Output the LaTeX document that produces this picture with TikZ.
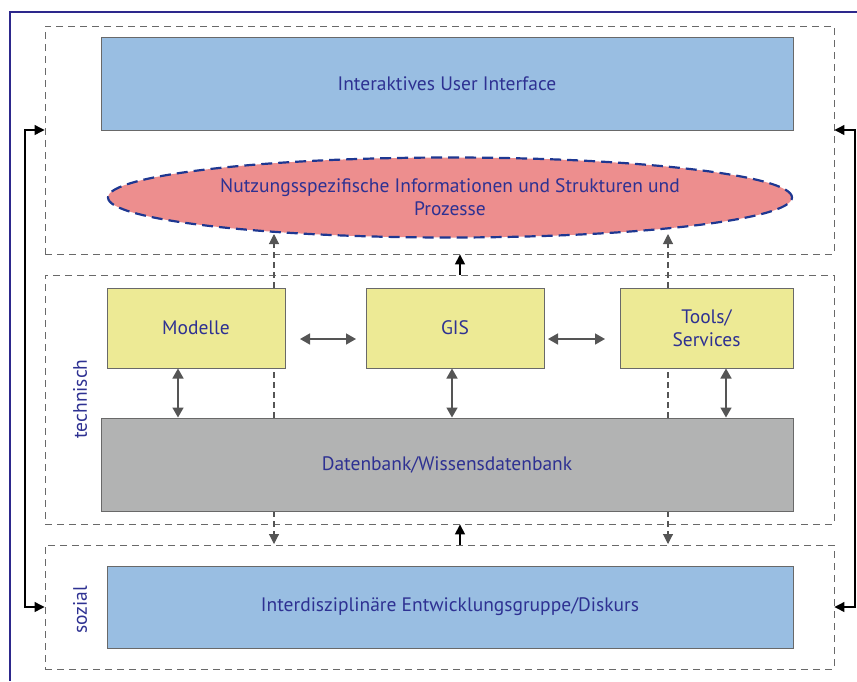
\documentclass[tikz,border=0pt]{standalone}
\usepackage{fontspec}
\setmainfont{PT Sans}
\usetikzlibrary{arrows.meta,shapes.geometric}
\definecolor{txtblue}{RGB}{46,49,146}
\definecolor{frameblue}{RGB}{45,40,140}
\definecolor{uiblue}{RGB}{153,190,226}
\definecolor{ellred}{RGB}{237,142,142}
\definecolor{ellline}{RGB}{30,55,145}
\definecolor{yel}{RGB}{237,234,149}
\definecolor{dbgray}{RGB}{178,179,179}
\definecolor{bordgray}{RGB}{105,105,105}
\definecolor{arrgray}{RGB}{85,85,85}
\tikzset{
  x=1pt, y=-1pt,
  every node/.style={font=\fontsize{19.5}{23}\selectfont, text=txtblue},
  boxnode/.style={draw=bordgray, line width=1pt, rectangle, inner sep=0pt, align=center},
  zone/.style={draw=bordgray, line width=0.9pt, dash pattern=on 7pt off 5pt, rectangle, inner sep=0pt},
  dblarrow/.style={draw=arrgray, line width=1.6pt, {Triangle[width=11pt,length=10pt]}-{Triangle[width=11pt,length=10pt]}},
  dasharrow/.style={draw=arrgray, line width=1.1pt, dash pattern=on 6pt off 4pt, -{Triangle[width=10pt,length=10pt]}},
  blackarrow/.style={draw=black, line width=1.6pt, -{Triangle[width=10pt,length=10pt]}},
  loopline/.style={draw=black, line width=1.2pt, {Triangle[width=10pt,length=10pt]}-{Triangle[width=10pt,length=10pt]}},
}
\begin{document}
\begin{tikzpicture}
\useasboundingbox (0,0) rectangle (857,681);
% outer frame
\draw[frameblue, line width=2.2pt] (10,681) -- (10,12) -- (857,12);
% zones
\node[zone, minimum width=789pt, minimum height=228pt] (ztop) at (439.5,140) {};
\node[zone, minimum width=789pt, minimum height=249pt] (zmid) at (439.5,399.5) {};
\node[zone, minimum width=789pt, minimum height=124pt] (zbot) at (439.5,607) {};
% dashed connectors behind boxes
\coordinate (e1) at (274,234);
\coordinate (e2) at (668,234);
\coordinate (b1) at (274,544);
\coordinate (b2) at (668,544);
\coordinate (d1) at (274,418);
\coordinate (d2) at (668,418);
\coordinate (d3) at (274,511);
\coordinate (d4) at (668,511);
\draw[dasharrow] (d1) -- (e1);
\draw[dasharrow] (d2) -- (e2);
\draw[dasharrow] (d3) -- (b1);
\draw[dasharrow] (d4) -- (b2);
% boxes
\node[boxnode, fill=uiblue, minimum width=692pt, minimum height=93pt] (ui) at (447,83.5) {Interaktives User Interface};
\node[ellipse, draw=ellline, fill=ellred, line width=2.2pt, dash pattern=on 11pt off 6pt, minimum width=684pt, minimum height=80pt, inner sep=0pt, align=center] (ell) at (450,197.5) {Nutzungsspezifische Informationen und Strukturen und\\Prozesse};
\node[boxnode, fill=yel, minimum width=178pt, minimum height=80pt] (mod) at (196,328) {Modelle};
\node[boxnode, fill=yel, minimum width=178pt, minimum height=80pt] (gis) at (455,328) {GIS};
\node[boxnode, fill=yel, minimum width=173pt, minimum height=80pt] (tools) at (706.5,328) {Tools/\\Services};
\node[boxnode, fill=dbgray, minimum width=692pt, minimum height=93pt] (db) at (447,464.5) {Datenbank/Wissensdatenbank};
\node[boxnode, fill=uiblue, minimum width=686pt, minimum height=82pt] (soz) at (450,607) {Interdisziplinäre Entwicklungsgruppe/Diskurs};
% labels
\node[rotate=90] (lt) at (80,399) {technisch};
\node[rotate=90] (ls) at (80,610) {sozial};
% double arrows
\coordinate (h1) at (300,339);
\coordinate (h2) at (356,339);
\coordinate (h3) at (548,339);
\coordinate (h4) at (605,339);
\draw[dblarrow] (h1) -- (h2);
\draw[dblarrow] (h3) -- (h4);
\draw[dblarrow] (mod.south -| 178,0) -- (db.north -| 178,0);
\draw[dblarrow] (gis.south -| 452,0) -- (db.north -| 452,0);
\draw[dblarrow] (tools.south -| 726,0) -- (db.north -| 726,0);
% black arrows between zones
\draw[blackarrow] (zmid.north -| 460,0) -- (ztop.south -| 460,0);
\draw[blackarrow] (zbot.north -| 460,0) -- (zmid.south -| 460,0);
% feedback loops
\coordinate (lt1) at (ztop.west |- 0,130);
\coordinate (lb1) at (zbot.west |- 0,607);
\coordinate (rt1) at (ztop.east |- 0,130);
\coordinate (rb1) at (zbot.east |- 0,607);
\draw[loopline] (lt1) -- (25,130) -- (25,607) -- (lb1);
\draw[loopline] (rt1) -- (855,130) -- (855,607) -- (rb1);
\end{tikzpicture}
\end{document}
